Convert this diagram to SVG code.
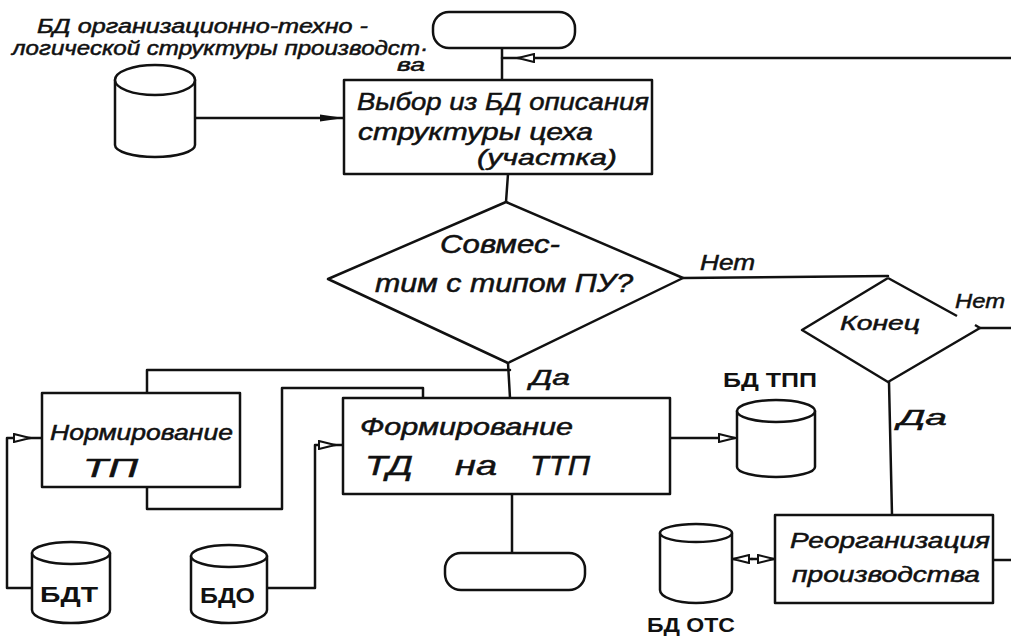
<svg xmlns="http://www.w3.org/2000/svg" width="1011" height="643" viewBox="0 0 1011 643">
<defs>
<style>
.s{fill:none;stroke:#111;stroke-width:2.5;stroke-linejoin:round;stroke-linecap:round}
.n{fill:#fff;stroke:#111;stroke-width:2.5;stroke-linejoin:round}
.t{font-family:"Liberation Sans","DejaVu Sans",sans-serif;font-style:italic;fill:#111;stroke:#111;stroke-width:0.5}
.u{font-family:"Liberation Sans","DejaVu Sans",sans-serif;font-weight:bold;fill:#111}
</style>
<marker id="af" viewBox="0 0 24 10" refX="24" refY="5" markerWidth="24" markerHeight="10" markerUnits="userSpaceOnUse" orient="auto">
<path d="M0,1.5 L24,5 L0,8.5 Z" fill="#111"/>
</marker>
<marker id="ao" viewBox="0 0 18 10" refX="17" refY="5" markerWidth="18" markerHeight="10" markerUnits="userSpaceOnUse" orient="auto">
<path d="M1,1 L17,5 L1,9 Z" fill="#fff" stroke="#111" stroke-width="2"/>
</marker>
</defs>
<rect width="1011" height="643" fill="#fff"/>

<g id="connectors">
<path class="s" d="M1011,58 L518,58" marker-end="url(#ao)"/>
<path class="s" d="M518,58 L502,58"/>
<path class="s" d="M502,48 L502,80"/>
<path class="s" d="M195,118 L344,118" marker-end="url(#af)"/>
<path class="s" d="M508,174 L506,202"/>
<path class="s" d="M683,278 L888,276"/>
<path class="s" d="M508,363 L510,398"/>
<path class="s" d="M510,370 L147,370 L147,393"/>
<path class="s" d="M423,399 L423,388 L282,388 L282,509 L147,509 L147,487"/>
<path class="s" d="M32,588 L7,588 L7,438 L30,438" marker-end="url(#ao)"/>
<path class="s" d="M30,438 L42,438"/>
<path class="s" d="M267,588 L315,588 L315,445 L335,445" marker-end="url(#ao)"/>
<path class="s" d="M335,445 L343,445"/>
<path class="s" d="M670,438 L735,438" marker-end="url(#ao)"/>
<path class="s" d="M512,495 L512,553"/>
<path class="s" d="M889,382 L892,515"/>
<path class="s" d="M980,328 L1011,328"/>
<path class="s" d="M993,560 L1011,560"/>
<path class="s" d="M752,559 L733,559" marker-end="url(#ao)"/>
<path class="s" d="M752,559 L774,559" marker-end="url(#ao)"/>
</g>

<g id="label-db-org">
<text class="t" x="37" y="33" font-size="20" textLength="331" lengthAdjust="spacingAndGlyphs">БД организационно-техно -</text>
<text class="t" x="12" y="55" font-size="20" textLength="416" lengthAdjust="spacingAndGlyphs">логической структуры производст·</text>
<text class="t" x="397" y="71" font-size="18" textLength="28" lengthAdjust="spacingAndGlyphs">ва</text>
</g>

<g id="db-org">
<path class="n" d="M115,145 L115,80 L195,80 L195,145 A40,12 0 0 1 115,145 Z"/>
<ellipse class="n" cx="155" cy="80" rx="40" ry="15"/>
</g>

<g id="start">
<rect class="n" x="433" y="12" width="142" height="36" rx="16"/>
</g>

<g id="select">
<rect class="n" x="344" y="80" width="308" height="94"/>
<text class="t" x="357" y="110" font-size="24" textLength="292" lengthAdjust="spacingAndGlyphs">Выбор из БД описания</text>
<text class="t" x="358" y="140" font-size="24" textLength="235" lengthAdjust="spacingAndGlyphs">структуры цеха</text>
<text class="t" x="477" y="165" font-size="22" textLength="140" lengthAdjust="spacingAndGlyphs">(участка)</text>
</g>

<g id="compatible">
<path class="n" d="M506,202 L683,278 L508,363 L328,279 Z"/>
<text class="t" x="440" y="253" font-size="25" textLength="120" lengthAdjust="spacingAndGlyphs">Совмес-</text>
<text class="t" x="375" y="292" font-size="25" textLength="258" lengthAdjust="spacingAndGlyphs">тим с типом ПУ?</text>
</g>

<text class="t" x="700" y="270" font-size="22" textLength="55" lengthAdjust="spacingAndGlyphs">Нет</text>
<text class="t" x="530" y="385" font-size="22" textLength="40" lengthAdjust="spacingAndGlyphs">Да</text>

<g id="end-check">
<path class="n" d="M888,278 L802,330 L888,382 L980,328 L975,325 M888,278 L957,316"/>
<text class="t" x="840" y="330" font-size="21" textLength="80" lengthAdjust="spacingAndGlyphs">Конец</text>
</g>
<text class="t" x="955" y="308" font-size="21" textLength="50" lengthAdjust="spacingAndGlyphs">Нет</text>
<text class="t" x="898" y="425" font-size="22" textLength="49" lengthAdjust="spacingAndGlyphs">Да</text>

<g id="norm">
<rect class="n" x="42" y="393" width="198" height="94"/>
<text class="t" x="50" y="440" font-size="22" textLength="183" lengthAdjust="spacingAndGlyphs">Нормирование</text>
<text class="t" x="83" y="477" font-size="26" textLength="55" lengthAdjust="spacingAndGlyphs">ТП</text>
</g>

<g id="form">
<rect class="n" x="343" y="398" width="327" height="96"/>
<text class="t" x="360" y="435" font-size="24" textLength="213" lengthAdjust="spacingAndGlyphs">Формирование</text>
<text class="t" x="365" y="475" font-size="28" textLength="48" lengthAdjust="spacingAndGlyphs">ТД</text>
<text class="t" x="455" y="475" font-size="28" textLength="42" lengthAdjust="spacingAndGlyphs">на</text>
<text class="t" x="530" y="475" font-size="28" textLength="60" lengthAdjust="spacingAndGlyphs">ТТП</text>
</g>

<g id="stop">
<rect class="n" x="445" y="553" width="140" height="37" rx="16"/>
</g>

<g id="db-tpp">
<path class="n" d="M737,467 L737,411 L815,411 L815,467 A39,10 0 0 1 737,467 Z"/>
<ellipse class="n" cx="776" cy="411" rx="39" ry="11"/>
<text class="u" x="723" y="387" font-size="20" textLength="94" lengthAdjust="spacingAndGlyphs">БД ТПП</text>
</g>

<g id="db-t">
<path class="n" d="M32,610 L32,553 L110,553 L110,610 A39,13 0 0 1 32,610 Z"/>
<ellipse class="n" cx="71" cy="553" rx="39" ry="11"/>
<text class="u" x="40" y="602" font-size="22" textLength="58" lengthAdjust="spacingAndGlyphs">БДТ</text>
</g>

<g id="db-o">
<path class="n" d="M191,610 L191,556 L267,556 L267,610 A38,13 0 0 1 191,610 Z"/>
<ellipse class="n" cx="229" cy="556" rx="38" ry="11"/>
<text class="u" x="200" y="603" font-size="22" textLength="55" lengthAdjust="spacingAndGlyphs">БДО</text>
</g>

<g id="db-ots">
<path class="n" d="M660,590 L660,533 L732,533 L732,590 A36,13 0 0 1 660,590 Z"/>
<ellipse class="n" cx="696" cy="533" rx="36" ry="9"/>
<text class="u" x="647" y="632" font-size="20" textLength="88" lengthAdjust="spacingAndGlyphs">БД ОТС</text>
</g>

<g id="reorg">
<rect class="n" x="775" y="515" width="218" height="88"/>
<text class="t" x="790" y="548" font-size="22" textLength="200" lengthAdjust="spacingAndGlyphs">Реорганизация</text>
<text class="t" x="792" y="582" font-size="22" textLength="188" lengthAdjust="spacingAndGlyphs">производства</text>
</g>
</svg>
